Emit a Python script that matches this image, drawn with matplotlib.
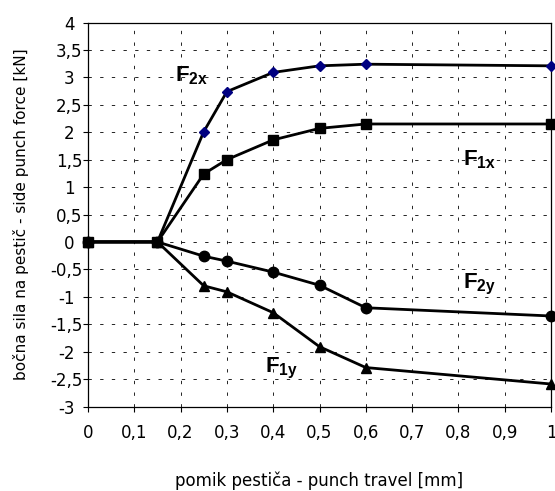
import matplotlib
matplotlib.use('Agg')
import matplotlib.pyplot as plt
import matplotlib.transforms as mtransforms

plt.rcParams['font.family'] = ['DejaVu Sans']
plt.rcParams['mathtext.fontset'] = 'custom'
plt.rcParams['mathtext.bf'] = 'Liberation Sans:bold'
plt.rcParams['mathtext.rm'] = 'Liberation Sans'

travel = [0, 0.15, 0.25, 0.3, 0.4, 0.5, 0.6, 1.0]
f2x = [0, 0, 2.01, 2.74, 3.09, 3.21, 3.24, 3.21]
f1x = [0, 0, 1.24, 1.5, 1.86, 2.07, 2.15, 2.15]
f2y = [0, 0, -0.26, -0.35, -0.55, -0.79, -1.2, -1.35]
f1y = [0, 0, -0.8, -0.91, -1.29, -1.91, -2.29, -2.59]

xticks = [0, 0.1, 0.2, 0.3, 0.4, 0.5, 0.6, 0.7, 0.8, 0.9, 1.0]
xticklabels = ['0', '0,1', '0,2', '0,3', '0,4', '0,5', '0,6', '0,7', '0,8', '0,9', '1']
yticks = [-3, -2.5, -2, -1.5, -1, -0.5, 0, 0.5, 1, 1.5, 2, 2.5, 3, 3.5, 4]
yticklabels = ['-3', '-2,5', '-2', '-1,5', '-1', '-0,5', '0', '0,5', '1', '1,5',
               '2', '2,5', '3', '3,5', '4']

fig = plt.figure(figsize=(5.55, 4.91), dpi=100)
ax = fig.add_axes([88 / 555, 1 - 406.5 / 491, (551 - 88) / 555, (406.5 - 22.5) / 491])

ax.plot(travel, f2y, 'k-', lw=2, marker='o', ms=7.5, clip_on=False, zorder=3)
ax.plot(travel, f1y, 'k-', lw=2, marker='^', ms=7.5, clip_on=False, zorder=3)
ax.plot(travel, f2x, 'k-', lw=2, marker='D', ms=5.5, mfc='#000080', mec='#000080',
        clip_on=False, zorder=3)
ax.plot(travel, f1x, 'k-', lw=2, marker='s', ms=7.5, clip_on=False, zorder=3)

ax.set_xlim(0, 1)
ax.set_ylim(-3, 4)
ax.set_xticks(xticks)
ax.set_xticklabels(xticklabels)
ax.set_yticks(yticks)
ax.set_yticklabels(yticklabels)
ax.tick_params(labelsize=12, length=3.6, width=0.8, direction='out')
ax.tick_params(axis='x', pad=9)
ax.tick_params(axis='y', pad=0.5)
ax.grid(True, color='black', lw=0.6, linestyle=(0, (4, 10)))
for s in ax.spines.values():
    s.set_linewidth(0.9)

# integer labels sit a bit left of the decimal ones
shift = mtransforms.ScaledTranslation(-8 / 100, 0, fig.dpi_scale_trans)
for lab in ax.get_yticklabels():
    if ',' not in lab.get_text():
        lab.set_transform(lab.get_transform() + shift)

ax.set_xlabel('pomik pestiča - punch travel [mm]', fontsize=12)
ax.set_ylabel('bočna sila na pestič - side punch force [kN]', fontsize=11)
ax.xaxis.set_label_coords(0.5, -0.17)
ax.yaxis.set_label_coords(-0.128, 0.5)

tkw = dict(fontsize=16, ha='center', va='center')
ax.text(0.224, 3.03, r'$\mathbf{F_{2x}}$', **tkw)
ax.text(0.845, 1.5, r'$\mathbf{F_{1x}}$', **tkw)
ax.text(0.845, -0.77, r'$\mathbf{F_{2y}}$', **tkw)
ax.text(0.417, -2.31, r'$\mathbf{F_{1y}}$', **tkw)

plt.savefig('out.png', dpi=100)
